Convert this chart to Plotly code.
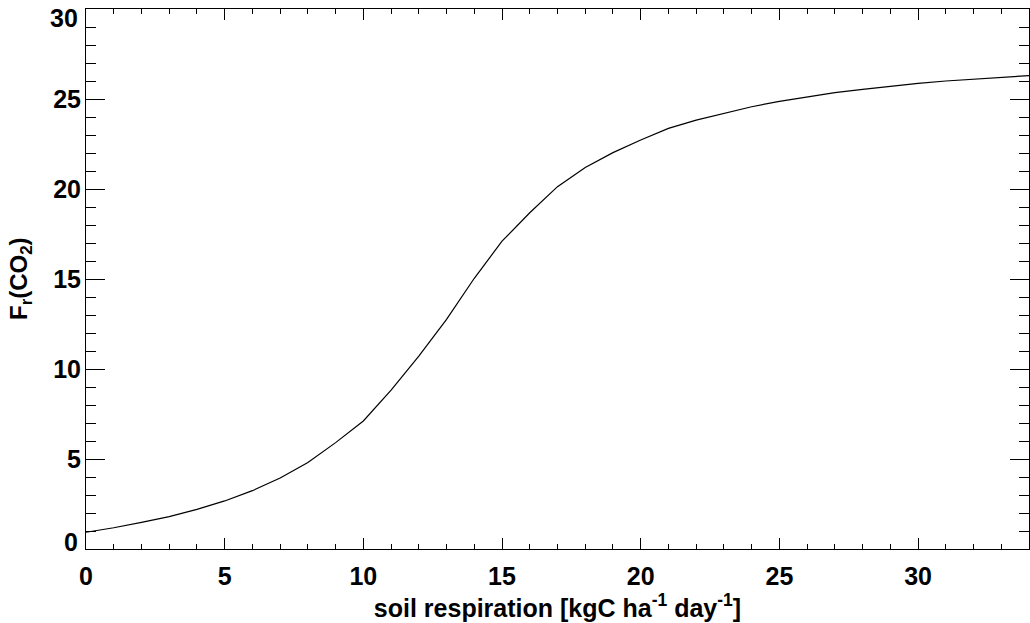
import plotly.graph_objects as go

soil_resp = list(range(0, 35))
fr_co2 = [0.93, 1.18, 1.48, 1.80, 2.20, 2.67, 3.24, 3.94, 4.81, 5.91,
          7.11, 8.83, 10.72, 12.76, 15.04, 17.10, 18.68, 20.13, 21.20, 22.02,
          22.72, 23.37, 23.83, 24.22, 24.57, 24.87, 25.13, 25.35, 25.54, 25.72,
          25.87, 26.00, 26.11, 26.20, 26.30]

x_tick_vals = [0, 5, 10, 15, 20, 25, 30]
x_tick_text = ["0", "5", "10", "15", "20", "25", "30"]
y_tick_vals = [0, 5, 10, 15, 20, 25, 30]
y_tick_text = ["0", "5", "10", "15", "20", "25", "30"]

x_title = "soil respiration [kgC ha<sup>-1</sup> day<sup>-1</sup>]"
y_title = "F<sub>r</sub>(CO<sub>2</sub>)"

FONT = "Liberation Sans"
TICKFONT = dict(family=FONT, size=25, color="black", weight="bold")

W, H = 1030, 623

fig = go.Figure()
fig.add_trace(go.Scatter(x=soil_resp, y=fr_co2, mode="lines",
                         line=dict(color="black", width=1.2),
                         showlegend=False, hoverinfo="skip"))

# end labels on the y axis are nudged inward (as in the original)
inner_text = [t if v not in (y_tick_vals[0], y_tick_vals[-1]) else "" for v, t in zip(y_tick_vals, y_tick_text)]
annos = []
for v, t in zip(y_tick_vals, y_tick_text):
    if v == y_tick_vals[0]:
        shift = 7
    elif v == y_tick_vals[-1]:
        shift = -9
    else:
        continue
    annos.append(dict(x=0, xref="paper", y=v, yref="y", text=t, showarrow=False,
                      xanchor="right", yanchor="middle", xshift=-6, yshift=shift,
                      font=TICKFONT))

# y-axis title
annos.append(dict(x=0, xref="paper", y=0.5, yref="paper", text=y_title, showarrow=False,
                  textangle=-90, xanchor="center", yanchor="middle", xshift=-66,
                  font=dict(family=FONT, size=24, color="black", weight="bold")))

fig.update_layout(
    width=W, height=H,
    margin=dict(l=86, r=1, t=9, b=74, autoexpand=False),
    paper_bgcolor="white", plot_bgcolor="white",
    font=dict(family=FONT, color="black", size=24),
    annotations=annos,
)

fig.update_xaxes(
    range=[0, 34], tickvals=x_tick_vals, ticktext=x_tick_text, automargin=False,
    showgrid=False, zeroline=False,
    showline=True, linecolor="black", linewidth=1, mirror="ticks",
    ticks="inside", ticklen=11, tickcolor="black", tickwidth=1,
    minor=dict(dtick=1, tick0=0, ticks="inside", ticklen=5, tickcolor="black", tickwidth=1, showgrid=False),
    tickfont=TICKFONT,
    ticklabelstandoff=5, ticklabeloverflow="allow",
    title=dict(text=x_title, font=dict(family=FONT, size=25, color="black", weight="bold"), standoff=6),
)
fig.update_yaxes(
    range=[0, 30], tickvals=y_tick_vals, ticktext=inner_text, automargin=False,
    showgrid=False, zeroline=False,
    showline=True, linecolor="black", linewidth=1, mirror="ticks",
    ticks="inside", ticklen=19, tickcolor="black", tickwidth=1,
    minor=dict(dtick=1, tick0=0, ticks="inside", ticklen=10, tickcolor="black", tickwidth=1, showgrid=False),
    tickfont=TICKFONT,
    ticklabelstandoff=-1, ticklabeloverflow="allow",
)

fig.write_html("out.html",
               config={"displayModeBar": False},
               post_script="document.body.style.margin='0';document.body.style.overflow='hidden';")
